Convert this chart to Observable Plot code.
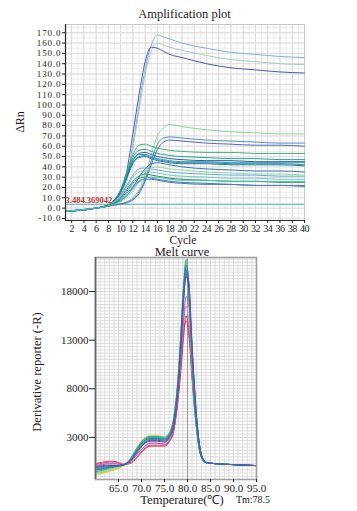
<!DOCTYPE html>
<html><head><meta charset="utf-8">
<script src="https://cdn.jsdelivr.net/npm/d3@7"></script>
<script src="https://cdn.jsdelivr.net/npm/@observablehq/plot@0.6"></script>
<style>
body{margin:0;background:#fff;}
#wrap{position:relative;width:357px;height:511px;overflow:hidden;font-family:"Liberation Serif",serif;color:#222;}
#wrap svg{position:absolute;left:0;font-family:"Liberation Serif",serif !important;}
#wrap svg text{font-family:"Liberation Serif",serif !important;}
.lbl{position:absolute;transform:translate(-50%,-50%);white-space:nowrap;line-height:1;font-family:"Liberation Serif",serif;color:#222;}
</style></head>
<body><div id="wrap"></div>
<script>
// ---------- Amplification plot data ----------
const cycles = [1,6,8,9,10,11,12,13,14,15,16,17,18,20,24,28,32,36,40];
const ampColors = ["#86b0d0","#a8cbbd","#4a5aa8","#8fd49e","#5a8ec0","#4f6db5","#3cb371","#2a9d8f","#2f5aa0","#1fa5b8","#3f7fbf","#1b7f86","#6aa8d8","#79c6c0","#4070b8","#8ed8a0","#2e8b57","#1e8fa8","#5b6fb8","#45c5b0"];
const ampValues = [
 [-3,0,3,6,12,30,62,100,135,158,168,166,164,160,155,151,149,147,146],
 [-3,0,3,5,10,26,58,95,130,152,160,158,156,153,148,144,142,140,139],
 [-3,0,3,7,15,36,72,110,142,156,155,152,149,146,140,136,134,132,131],
 [-3,0,2,3,4,6,10,18,32,52,70,78,81,79,76,74,73,72,72],
 [-3,0,2,3,4,6,9,16,28,46,62,68,69,68,66,65,64,63,63],
 [-3,0,2,3,4,5,8,14,26,42,57,64,66,65,63,62,61,61,60],
 [-3,0,3,8,18,35,52,61,62,60,58,57,56,55,54,54,53,53,53],
 [-3,0,3,8,17,33,49,56,57,55,53,52,51,50,49,48,48,47,47],
 [-3,0,3,7,16,31,46,53,54,52,50,49,48,47,46,46,45,45,45],
 [-3,0,3,8,17,32,46,52,52,50,48,47,46,45,45,44,44,44,44],
 [-3,0,3,7,15,29,43,50,51,49,47,46,45,44,44,43,43,43,42],
 [-3,0,3,8,16,30,44,49,50,48,46,45,44,43,43,42,42,42,41],
 [-3,0,3,6,12,22,32,38,39,38,37,36,35,34,33,32,32,31,31],
 [-3,0,3,6,11,20,30,35,36,35,34,33,32,31,30,29,29,28,28],
 [-3,0,2,4,7,12,20,30,38,43,44,43,42,40,38,37,36,36,35],
 [-3,0,2,4,6,10,17,26,34,39,40,39,38,37,35,34,33,33,32],
 [-3,0,3,5,10,18,26,31,33,32,31,30,29,28,27,26,26,25,25],
 [-3,0,2,5,9,16,24,29,30,29,28,27,26,25,24,23,22,22,21],
 [-3,0,2,4,8,14,21,26,28,28,27,26,25,24,23,23,22,22,22],
 [-3,0,2,4,7,12,19,25,29,30,30,29,28,27,27,26,26,26,26]
];
const threshold = 3.6;
const thresholdLabel = "3.484.369042";
const ampXTicks = [2,4,6,8,10,12,14,16,18,20,22,24,26,28,30,32,34,36,38,40];
const ampYTicks = [-10,0,10,20,30,40,50,60,70,80,90,100,110,120,130,140,150,160,170];

// ---------- Melt curve data ----------
const temps = [60,61.5,63,64.5,66,67.5,69,70.5,72,73.5,75,76,77,77.8,78.5,79.1,79.7,80.3,80.9,81.5,82.2,83,84,86,90,95];
const meltColors = ["#d14a9c","#e88bc4","#d04050","#b05fa8","#9acd32","#e6c84a","#86d49a","#2aa39f","#3cb371","#1fb5c8","#2e8b6b","#6a4fb0","#3a4f9a","#4f5fc4"];
const meltValues = [
 [200,350,450,450,300,400,1000,1800,2200,2200,2200,2600,3800,6500,10000,13500,15000,13500,9500,6000,3000,1000,400,300,200,100],
 [100,250,400,450,300,500,1200,2000,2400,2400,2300,2700,4000,6800,10500,14500,16500,15000,10500,6500,3200,1000,400,300,200,100],
 [300,450,550,500,200,300,900,1700,2100,2100,2100,2500,3600,6200,9500,13000,15500,14000,10000,6200,3100,1000,400,300,200,100],
 [100,200,300,300,200,450,1200,2000,2400,2400,2300,2700,3900,6700,10500,14800,17500,16500,11500,7200,3500,1100,400,300,200,100],
 [-700,-600,-400,-200,100,700,1900,2800,3100,3100,3000,3400,5000,8300,13000,18000,20500,18000,12000,6600,3000,1000,400,300,200,100],
 [-800,-700,-500,-300,50,700,2000,2900,3200,3200,3100,3500,5100,8500,13500,18500,20000,17000,11000,6300,2900,1000,400,300,200,100],
 [-600,-500,-300,-100,100,650,1700,2600,3000,3000,2900,3300,4800,8000,12800,18000,21000,18000,11800,6500,3000,1000,400,300,200,100],
 [-300,-200,-50,50,150,700,1800,2700,3000,3000,2900,3300,4800,8000,12500,17500,20000,17500,11500,6500,3000,1000,400,300,200,100],
 [-500,-400,-200,0,150,600,1600,2500,2900,2900,2800,3200,4600,7800,13000,18500,21300,18500,12000,6800,3100,1000,400,300,200,100],
 [-400,-300,-100,50,150,750,1900,2800,3100,3100,3000,3400,5000,8200,13000,18000,20300,18000,12000,6600,3000,1000,400,300,200,100],
 [-300,-250,-100,0,150,650,1700,2600,2900,2900,2800,3200,4700,7900,12700,17800,20200,17800,12000,6800,3100,1000,400,300,200,100],
 [0,100,150,150,200,600,1500,2300,2600,2600,2500,2900,4200,7200,11500,16500,19800,18500,13000,8200,3900,1300,450,300,200,100],
 [-100,0,100,100,150,550,1400,2300,2700,2700,2600,3000,4300,7300,11800,17000,19500,18800,13500,8500,4000,1300,450,300,200,100],
 [-200,-100,0,50,150,550,1500,2400,2800,2800,2700,3100,4400,7500,12000,17000,20700,19000,13000,8000,3800,1200,450,300,200,100]
];
const meltXTicks = [65,70,75,80,85,90,95];
const meltYTicks = [3000,8000,13000,18000];
const tmValue = 78.5;

// ---------- build ----------
const ampRows = ampValues.flatMap((vals,i)=>vals.map((v,j)=>({id:i,cycle:cycles[j],value:v,color:ampColors[i]})));
const meltRows = meltValues.flatMap((vals,i)=>vals.map((v,j)=>({id:i,temp:temps[j],value:v,color:meltColors[i]})));

const FF = "Liberation Serif";
const baseStyle = {fontFamily:FF, fontSize:"11px", color:"#222", background:"transparent", overflow:"visible"};

const amp = Plot.plot({
  width:357, height:250, marginLeft:65, marginRight:53, marginTop:24, marginBottom:30,
  x:{domain:[1,40]}, y:{domain:[-12,178]},
  style: baseStyle,
  marks:[
    Plot.gridX(d3.range(1,41), {stroke:"#ececec", strokeOpacity:1}),
    Plot.gridY(d3.range(-10,178,5), {stroke:"#ececec", strokeOpacity:1}),
    Plot.gridX(ampXTicks, {stroke:"#dcdcdc", strokeOpacity:1}),
    Plot.gridY(ampYTicks, {stroke:"#dcdcdc", strokeOpacity:1}),
    Plot.frame({stroke:"#c8c8c8"}),
    Plot.ruleY([threshold], {stroke:"#6cc0c8", strokeWidth:1.2}),
    Plot.line(ampRows, {x:"cycle", y:"value", z:"id", stroke:"color", curve:"monotone-x", strokeWidth:1}),
    Plot.ruleX([1], {stroke:"#222", strokeWidth:1.2}),
    Plot.ruleY([-12], {stroke:"#332222", strokeWidth:1.2}),
    Plot.axisX({ticks:ampXTicks, tickSize:3, tickPadding:1, tickFormat:d=>String(d), label:null, fontSize:10, fontFamily:FF}),
    Plot.axisY({ticks:ampYTicks, tickSize:3, tickPadding:1, tickFormat:d=>d.toFixed(1), label:null, fontSize:9, fontFamily:FF}),
    Plot.text([{x:1,y:threshold,t:thresholdLabel}], {x:"x", y:"y", text:"t", textAnchor:"start", lineAnchor:"bottom", dy:-1, dx:0, fill:"#b83a3a", fontSize:8.5, fontWeight:"bold", fontFamily:FF})
  ]
});
amp.style.top = "0px";
// condensed x tick labels, widened y tick labels, as in the original rendering
amp.querySelectorAll('g[aria-label="x-axis tick label"] text').forEach(t => t.setAttribute("letter-spacing", "-0.6"));
amp.querySelectorAll('g[aria-label="y-axis tick label"] text').forEach(t => t.setAttribute("letter-spacing", "0.9"));

const melt = Plot.plot({
  width:357, height:266, marginLeft:95, marginRight:101, marginTop:12, marginBottom:32,
  x:{domain:[60,95]}, y:{domain:[-1330,21500]},
  style: baseStyle,
  marks:[
    Plot.gridX(d3.range(60,96,1), {stroke:"#dcdcdc", strokeOpacity:1}),
    Plot.gridY(d3.range(3000, 21500, 5000/15).concat(d3.range(3000, -1330, -5000/15)), {stroke:"#dcdcdc", strokeOpacity:1}),
    Plot.ruleX([80], {stroke:"#999", strokeWidth:1}),
    Plot.line(meltRows, {x:"temp", y:"value", z:"id", stroke:"color", curve:"monotone-x", strokeWidth:1}),
    Plot.frame({stroke:"#a0a0a0", strokeWidth:1.6}),
    Plot.ruleX([60], {stroke:"#666", strokeWidth:1.6}),
    Plot.axisX({ticks:meltXTicks, tickSize:3, tickPadding:2, tickFormat:d=>d.toFixed(1), label:null, fontSize:11, fontFamily:FF}),
    Plot.axisY({ticks:meltYTicks, tickSize:6, tickPadding:1, tickFormat:d=>String(d), label:null, fontSize:11, fontFamily:FF})
  ]
});
melt.style.top = "245px";

const wrap = document.getElementById("wrap");
wrap.appendChild(amp);
wrap.appendChild(melt);

function label(text, cx, cy, size, rot){
  const d = document.createElement("div");
  d.className = "lbl";
  d.textContent = text;
  d.style.left = cx+"px"; d.style.top = cy+"px"; d.style.fontSize = size+"px";
  if (rot) d.style.transform = "translate(-50%,-50%) rotate("+rot+"deg)";
  wrap.appendChild(d);
}
label("Amplification plot", 184.5, 14, 12.5);
label("ΔRn", 20, 122, 12, -90);
label("Cycle", 183, 241, 11.5);
label("Melt curve", 182, 252, 12.5);
label("Derivative reporter (-R)", 37, 372, 12.5, -90);
label("Temperature(℃)", 182, 500, 12.5);
label("Tm:" + tmValue, 253, 500, 10);
</script></body></html>
